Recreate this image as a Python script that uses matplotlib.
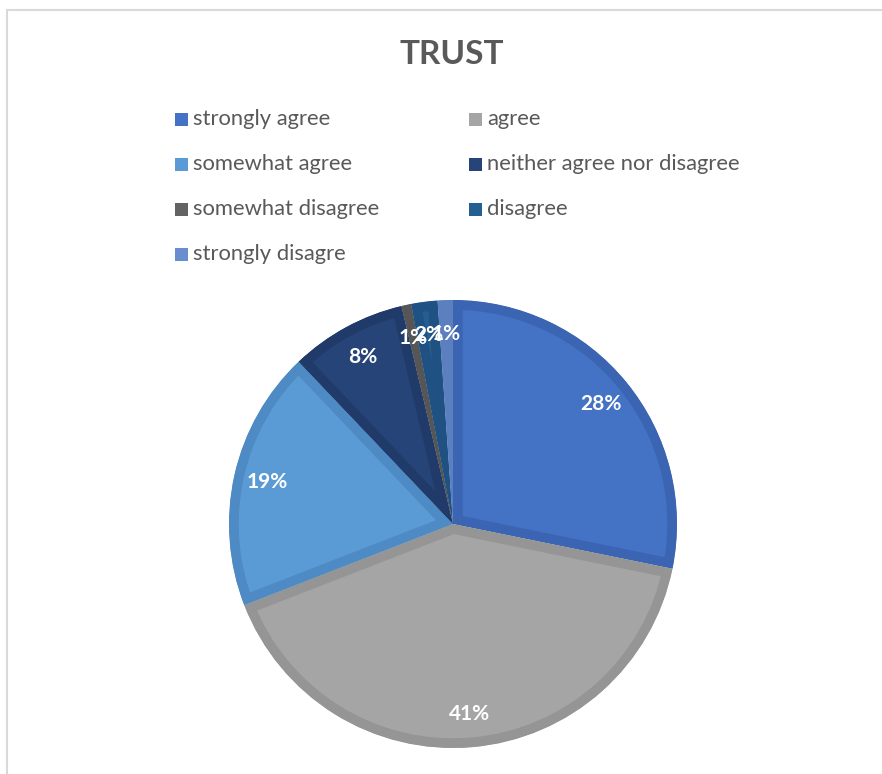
import matplotlib
matplotlib.use("Agg")
import matplotlib.pyplot as plt
from matplotlib.patches import Rectangle

labels = ["strongly agree", "agree", "somewhat agree", "neither agree nor disagree",
          "somewhat disagree", "disagree", "strongly disagre"]
values = [28.2, 40.9, 18.8, 8.4, 0.7, 1.9, 1.1]
fill_colors = ["#4472C4", "#A5A5A5", "#5B9BD5", "#264478", "#636363", "#255E91", "#698ED0"]
edge_colors = ["#3B65B3", "#959595", "#4E8AC3", "#203B6A", "#565656", "#1F5282", "#5C7FC0"]
title = "TRUST"

W, H = 882, 774
fig = plt.figure(figsize=(W / 100, H / 100), dpi=100)
fig.patch.set_facecolor("white")

# chart frame (cropped at right/bottom)
fig.add_artist(Rectangle((6.5 / W, -0.1), 1.2, (H - 10.5) / H + 0.1,
                         transform=fig.transFigure, fill=False,
                         edgecolor="#D9D9D9", linewidth=1.5))

fig.text(452 / W, 1 - 54 / H, title, ha="center", va="center",
         fontsize=24, fontweight="bold", color="#595959", family="Lato")

# legend (row-wise, two columns)
for i, (lab, col) in enumerate(zip(labels, fill_colors)):
    r, c = divmod(i, 2)
    x = 175 + c * 294
    y = 119 + r * 45
    fig.add_artist(Rectangle((x / W, 1 - (y + 6.5) / H), 13 / W, 13 / H,
                             transform=fig.transFigure, facecolor=col, edgecolor="none"))
    fig.text((x + 18) / W, 1 - y / H, lab, ha="left", va="center",
             fontsize=15.8, color="#595959", family="Lato")

cx, cy, R = 453, 524, 224
ax = fig.add_axes([(cx - R) / W, 1 - (cy + R) / H, 2 * R / W, 2 * R / H])
wedges, texts, autotexts = ax.pie(values, colors=fill_colors, startangle=90,
                                  counterclock=False, radius=1.0,
                                  autopct="%.0f%%", pctdistance=0.85,
                                  textprops=dict(color="white", fontsize=15,
                                                 fontweight="bold", family="Lato"))
for w, ec in zip(wedges, edge_colors):
    w.set_edgecolor(ec)
    w.set_linewidth(14)
    w.set_clip_path(w)
    w.set_clip_on(True)
ax.set_xlim(-1, 1)
ax.set_ylim(-1, 1)
ax.set_aspect("equal")
ax.axis("off")

fig.savefig("out.png", dpi=100, facecolor="white")
